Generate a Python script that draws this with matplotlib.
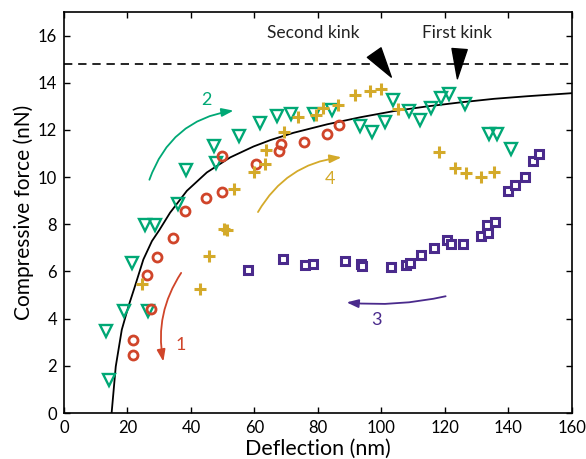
import matplotlib
matplotlib.use('Agg')
import matplotlib.pyplot as plt

plt.rcParams['font.family'] = ['Lato', 'DejaVu Sans']

# data
green_x = [13.1, 14.3, 19.0, 26.6, 21.3, 25.6, 28.7, 35.8, 38.4, 47.9, 47.4, 55.0, 61.8, 67.0, 71.4,
           78.7, 84.4, 93.2, 97.0, 101.1, 103.6, 108.8, 112.1, 115.6, 118.6, 121.2, 126.2, 133.8, 136.5, 140.8]
green_y = [3.46, 1.40, 4.33, 4.31, 6.38, 7.98, 7.98, 8.85, 10.29, 10.61, 11.3, 11.75, 12.3, 12.58, 12.68,
           12.68, 12.85, 12.15, 11.93, 12.33, 13.25, 12.82, 12.44, 12.92, 13.35, 13.53, 13.1, 11.83, 11.83, 11.2]

red_x = [21.7, 21.7, 27.4, 26.3, 29.2, 34.2, 38.1, 44.6, 49.8, 49.8, 60.5, 67.6, 68.2, 75.5, 82.8, 86.7]
red_y = [3.1, 2.47, 4.41, 5.87, 6.62, 7.43, 8.57, 9.13, 9.35, 10.9, 10.55, 11.12, 11.4, 11.48, 11.81, 12.23]

yellow_x = [24.5, 42.7, 45.6, 50.4, 51.3, 53.6, 60.0, 63.2, 63.6, 69.2, 73.6, 79.5, 81.5, 86.2, 91.5,
            96.3, 99.8, 105.2, 118.1, 123.3, 126.5, 131.4, 135.4]
yellow_y = [5.49, 5.26, 6.65, 7.82, 7.76, 9.49, 10.21, 10.56, 11.17, 11.9, 12.55, 12.65, 12.92, 13.04, 13.47,
            13.65, 13.75, 12.9, 11.05, 10.37, 10.17, 10.01, 10.2]

purple_x = [57.9, 69.0, 76.0, 78.3, 88.4, 93.7, 93.9, 103.1, 107.6, 108.9, 112.3, 116.5, 120.7, 122.0,
            125.7, 131.2, 133.1, 133.7, 135.6, 139.7, 142.0, 145.2, 147.6, 149.6]
purple_y = [6.06, 6.51, 6.28, 6.3, 6.43, 6.33, 6.23, 6.21, 6.28, 6.34, 6.71, 6.98, 7.33, 7.15,
            7.15, 7.5, 7.96, 7.65, 8.1, 9.42, 9.66, 9.99, 10.7, 10.98]

# fitted curve
fit_x = [15.0, 16.3, 18.2, 20.3, 22.2, 25.0, 27.7, 30.0, 33.4, 38.7, 45.0, 52.4, 59.7, 65.0, 72.3,
         82.9, 93.4, 103.9, 114.4, 124.9, 135.4, 145.9, 160.0]
fit_y = [0.0, 1.97, 3.53, 4.52, 5.31, 6.51, 7.29, 7.75, 8.49, 9.42, 10.2, 10.84, 11.3, 11.57, 11.88,
         12.24, 12.54, 12.8, 13.0, 13.17, 13.32, 13.43, 13.56]

limit_force = 14.8

green = '#00a875'
red = '#d0452a'
yellow = '#d4aa2a'
purple = '#4a2a8c'

fig = plt.figure(figsize=(5.86, 4.59), dpi=100)
ax = fig.add_axes([0.1092, 0.1002, 0.8669, 0.8736])

ax.axhline(limit_force, color='k', lw=1.2, ls=(0, (5, 3.5)))
ax.plot(fit_x, fit_y, color='k', lw=1.3, zorder=3)

ax.plot(green_x, green_y, 'v', ms=8.5, mfc='none', mec=green, mew=1.7, zorder=4)
ax.plot(red_x, red_y, 'o', ms=6.5, mfc='none', mec=red, mew=2.0, zorder=4)
ax.plot(yellow_x, yellow_y, '+', ms=9, mec=yellow, mew=2.2, zorder=4)
ax.plot(purple_x, purple_y, 's', ms=5.5, mfc='white', mec=purple, mew=2.2, zorder=4)

# numbered arrows
arrows = [
    ('1', (36.9, 5.94), (31.3, 2.18), 0.2, red, (36.9, 2.89)),
    ('2', (26.9, 9.89), (53.4, 12.82), -0.3, green, (45.0, 13.25)),
    ('3', (120.2, 4.95), (89.0, 4.69), -0.08, purple, (98.4, 3.96)),
    ('4', (61.1, 8.52), (87.4, 10.84), -0.25, yellow, (83.7, 9.91)),
]
for lab, tail, head, rad, col, lpos in arrows:
    ax.annotate('', xy=head, xytext=tail,
                arrowprops=dict(arrowstyle='-|>,head_length=0.7,head_width=0.25', color=col, lw=1.3,
                                shrinkA=0, shrinkB=0, connectionstyle=f'arc3,rad={rad}'))
    ax.text(lpos[0], lpos[1], lab, color=col, fontsize=13, ha='center', va='center')

# kink markers
ax.text(78.5, 16.09, 'Second kink', fontsize=12.5, ha='center', va='center', color='#222222')
ax.text(123.9, 16.09, 'First kink', fontsize=12.5, ha='center', va='center', color='#222222')
ax.annotate('', xy=(103.1, 14.24), xytext=(97.7, 15.28),
            arrowprops=dict(arrowstyle='wedge,tail_width=0.6', color='k', shrinkA=0, shrinkB=0,
                            mutation_scale=20))
ax.annotate('', xy=(123.9, 14.17), xytext=(124.6, 15.43),
            arrowprops=dict(arrowstyle='wedge,tail_width=0.55', color='k', shrinkA=0, shrinkB=0,
                            mutation_scale=20))

ax.set_xlim(0, 160)
ax.set_ylim(0, 17)
ax.set_xticks(range(0, 161, 20))
ax.set_yticks(range(0, 17, 2))
ax.tick_params(direction='in', top=True, right=True, length=4, width=1, labelsize=12, pad=5)
for s in ax.spines.values():
    s.set_linewidth(1.2)
ax.set_xlabel('Deflection (nm)', fontsize=15.5, labelpad=2)
ax.set_ylabel('Compressive force (nN)', fontsize=15, labelpad=3)

fig.savefig('out.png', dpi=100)
